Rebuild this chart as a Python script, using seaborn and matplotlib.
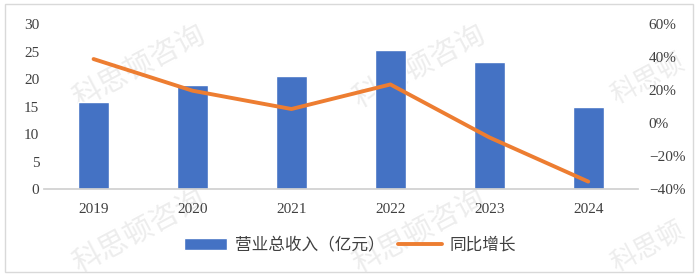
import matplotlib
matplotlib.use("Agg")
import matplotlib.pyplot as plt
import seaborn as sns
import pandas as pd
from matplotlib.patches import Rectangle
from matplotlib.ticker import FuncFormatter

years = ["2019", "2020", "2021", "2022", "2023", "2024"]
revenue = [15.8, 18.9, 20.5, 25.3, 23.1, 14.9]
growth = [0.388, 0.196, 0.085, 0.234, -0.087, -0.355]
bar_label = "营业总收入（亿元）"
line_label = "同比增长"
watermark = "科思顿咨询"
watermark_edge = "科思顿"

sns.set_theme(style="white")
plt.rcParams['font.family'] = ['Liberation Serif', 'Noto Sans CJK SC', 'DejaVu Sans']

df = pd.DataFrame({"year": years, "revenue": revenue, "growth": growth})

fig = plt.figure(figsize=(7, 2.8), dpi=100)

# watermarks (behind everything)
for (x, y, s, fs) in [(0.2, 0.76, watermark, 21), (0.6, 0.76, watermark, 21), (0.2, 0.17, watermark, 21),
                      (0.6, 0.17, watermark, 21), (0.925, 0.72, watermark_edge, 19),
                      (0.925, 0.12, watermark_edge, 19)]:
    fig.text(x, y, s, rotation=28, fontsize=fs, color="#ededed", fontweight="light",
             family=["Noto Sans CJK SC"], ha="center", va="center", zorder=-5)

ax = fig.add_axes([0.063, 0.325, 0.848, 0.589])
ax.patch.set_alpha(0)

sns.barplot(data=df, x="year", y="revenue", color="#4472C4", saturation=1,
            width=0.31, ax=ax, label=bar_label)
ax.set_xlim(-0.5, 5.5)
ax.set_ylim(0, 30)
ax.set_yticks([0, 5, 10, 15, 20, 25, 30])
ax.set_xlabel("")
ax.set_ylabel("")
for s in ["top", "right", "left"]:
    ax.spines[s].set_visible(False)
ax.spines["bottom"].set_color("#d0d0d0")
ax.tick_params(axis="both", length=0, labelsize=11, colors="#404040")
ax.tick_params(axis="x", pad=10)

ax2 = ax.twinx()
sns.lineplot(x=list(range(len(years))), y=growth, color="#ED7D31", linewidth=2.8,
             ax=ax2, label=line_label, legend=False)
ax2.set_ylim(-0.4, 0.6)
ax2.set_yticks([-0.4, -0.2, 0, 0.2, 0.4, 0.6])
ax2.yaxis.set_major_formatter(FuncFormatter(lambda v, p: f"{v*100:.0f}%".replace("-", "−") if abs(v) > 1e-9 else "0%"))
for s in ["top", "right", "left", "bottom"]:
    ax2.spines[s].set_visible(False)
ax2.tick_params(axis="y", length=0, labelsize=11, colors="#404040", pad=8)
ax2.set_ylabel("")
ax2.grid(False)
ax.grid(False)

h1, l1 = ax.get_legend_handles_labels()
h2, l2 = ax2.get_legend_handles_labels()
if ax.get_legend():
    ax.get_legend().remove()
leg = fig.legend(h1 + h2, l1 + l2, loc="center", bbox_to_anchor=(0.5, 0.125), ncol=2,
                 frameon=False, prop={"family": ["Noto Sans CJK SC"], "size": 12},
                 handlelength=2.6, columnspacing=0.8, handletextpad=0.5)
for t in leg.get_texts():
    t.set_color("#404040")

fig.patches.append(Rectangle((0.007, 0.028), 0.983, 0.957, transform=fig.transFigure,
                             fill=False, edgecolor="#d9d9d9", linewidth=1))

fig.savefig("out.png", dpi=100)
